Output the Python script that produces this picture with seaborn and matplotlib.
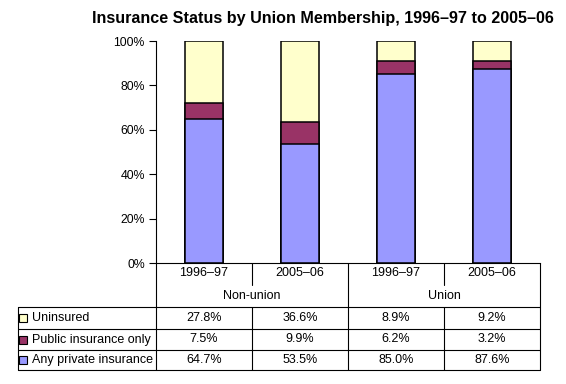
import pandas as pd
import matplotlib
matplotlib.use("Agg")
import matplotlib.pyplot as plt
import matplotlib.transforms as mtransforms
import seaborn as sns

# Data
periods = ["1996–97", "2005–06", "1996–97", "2005–06"]
groups = ["Non-union", "Union"]
uninsured = [27.8, 36.6, 8.9, 9.2]
public_only = [7.5, 9.9, 6.2, 3.2]
private = [64.7, 53.5, 85.0, 87.6]

series_names = ["Uninsured", "Public insurance only", "Any private insurance"]
colors = {"Uninsured": "#FFFFCC", "Public insurance only": "#993366",
          "Any private insurance": "#9999FF"}

# Style
sns.set_theme(style="white")
plt.rcParams["font.family"] = ["Liberation Sans", "DejaVu Sans"]

df = pd.DataFrame({
    "key": [f"{g}\n{p}" for g, p in zip(["Non-union"] * 2 + ["Union"] * 2, periods)],
    "private": private,
    "public": public_only,
    "uninsured": uninsured,
})
df["private_public"] = df["private"] + df["public"]
df["total"] = df["private_public"] + df["uninsured"]

W, H = 566, 384
fig = plt.figure(figsize=(W / 100, H / 100), dpi=100)
ax = fig.add_axes([156 / W, 1 - 263 / H, 384 / W, 222 / H])

# stacked bars drawn back to front
bar_kw = dict(data=df, x="key", width=0.4, edgecolor="black", linewidth=1.1, ax=ax)
sns.barplot(y="total", color=colors["Uninsured"], saturation=1, **bar_kw)
sns.barplot(y="private_public", color=colors["Public insurance only"], saturation=1, **bar_kw)
sns.barplot(y="private", color=colors["Any private insurance"], saturation=1, **bar_kw)

ax.set_xlim(-0.5, 3.5)
ax.set_ylim(0, 100)
ax.set_yticks(range(0, 101, 20))
ax.set_yticklabels([f"{v}%" for v in range(0, 101, 20)], fontsize=8.8, color="black")
ax.tick_params(axis="y", direction="out", length=5, width=0.8, color="black", pad=3, left=True)
ax.set_xticks([])
ax.set_xlabel("")
ax.set_ylabel("")
for side in ["top", "right"]:
    ax.spines[side].set_visible(False)
for side in ["left", "bottom"]:
    ax.spines[side].set_color("black")
    ax.spines[side].set_linewidth(0.8)

fig.text(322.5 / W, 1 - 18 / H, "Insurance Status by Union Membership, 1996–97 to 2005–06",
         ha="center", va="center", fontsize=11.6, fontweight="bold", color="black")

# Data table below the chart
tr = mtransforms.blended_transform_factory(ax.transData, fig.transFigure)
def fy(px):
    return 1 - px / H

x_left = -0.5 - 138 / 96
line_kw = dict(color="black", linewidth=0.8, transform=tr, clip_on=False)

row_lines = [307, 329, 350, 370]
for y in row_lines:
    ax.plot([x_left, 3.5], [fy(y), fy(y)], **line_kw)
for x in [-0.5, 1.5, 3.5]:
    ax.plot([x, x], [fy(263), fy(370)], **line_kw)
for x in [0.5, 2.5]:
    ax.plot([x, x], [fy(263), fy(285)], **line_kw)
    ax.plot([x, x], [fy(307), fy(370)], **line_kw)
ax.plot([x_left, x_left], [fy(307), fy(370)], **line_kw)

txt_kw = dict(transform=tr, fontsize=9, color="black", va="center", clip_on=False)
for i, p in enumerate(periods):
    ax.text(i, fy(273), p, ha="center", **txt_kw)
for i, g in enumerate(groups):
    ax.text(0.5 + 2 * i, fy(296), g, ha="center", **txt_kw)

row_centers = [318, 339.5, 360]
row_values = [uninsured, public_only, private]
for name, yc, vals in zip(series_names, row_centers, row_values):
    ax.plot([-0.5 - 133 / 96], [fy(yc)], marker="s", markersize=5.5,
            markerfacecolor=colors[name], markeredgecolor="black", markeredgewidth=0.8,
            transform=tr, clip_on=False)
    ax.text(-0.5 - 124 / 96, fy(yc), name, ha="left", **txt_kw)
    for i, v in enumerate(vals):
        ax.text(i, fy(yc), f"{v:.1f}%", ha="center", **txt_kw)

fig.savefig("out.png", dpi=100)
